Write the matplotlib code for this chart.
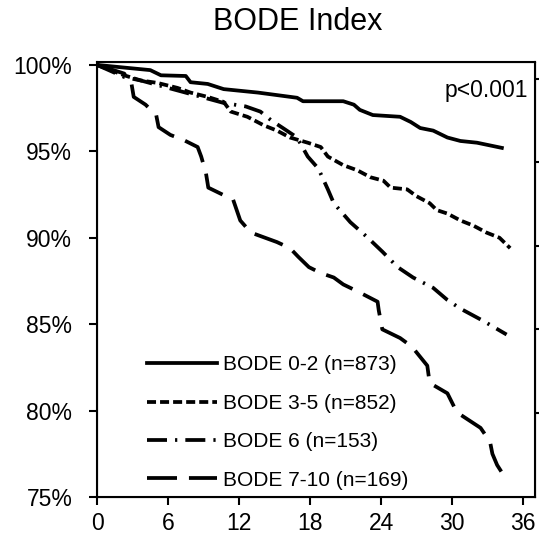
import matplotlib
matplotlib.use("Agg")
import matplotlib.pyplot as plt
from matplotlib.ticker import FuncFormatter

plt.rcParams['font.family'] = ['Liberation Sans', 'DejaVu Sans']
plt.rcParams['lines.scale_dashes'] = False

# Kaplan-Meier style survival curves (months, % event free)
bode_02_months = [0, 4.5, 5.4, 7.5, 7.9, 9.35, 10.7, 13.6, 16.9, 17.4, 20.8, 21.7, 22.2,
                  23.3, 25.6, 26.5, 27.3, 28.4, 29.6, 30.7, 32.1, 34.2]
bode_02_pct = [100, 99.7, 99.4, 99.36, 99.0, 98.9, 98.6, 98.4, 98.1, 97.9, 97.9, 97.7, 97.4,
               97.1, 97.0, 96.7, 96.35, 96.2, 95.8, 95.6, 95.5, 95.2]

bode_35_months = [0, 2.3, 3.7, 5.1, 6.8, 7.9, 9.35, 10.7, 11.3, 12.7, 14.1, 15.2, 16.3, 17.8,
                  18.9, 19.5, 20.8, 22.0, 23.1, 24.2, 24.8, 26.2, 27.0, 28.1, 28.7, 29.6,
                  30.7, 31.8, 32.9, 34.0, 34.9]
bode_35_pct = [100, 99.4, 99.1, 98.96, 98.67, 98.4, 98.15, 97.86, 97.3, 97.0, 96.5, 96.2,
               95.8, 95.5, 95.25, 94.7, 94.2, 93.9, 93.5, 93.3, 92.9, 92.8, 92.4, 92.0, 91.6,
               91.4, 91.0, 90.7, 90.3, 90.0, 89.4]

bode_6_months = [0, 2.3, 3.7, 10.7, 12.55, 13.8, 14.7, 15.7, 16.9, 17.8, 18.7, 19.5, 20.0,
                 21.4, 22.8, 24.1, 25.4, 26.7, 28.4, 29.6, 30.7, 32.6, 34.6]
bode_6_pct = [100, 99.3, 99.1, 97.8, 97.6, 97.3, 96.8, 96.35, 95.8, 94.7, 94.0, 92.8, 92.0,
              90.9, 90.05, 89.2, 88.3, 87.7, 87.1, 86.4, 85.9, 85.2, 84.4]

bode_710_months = [0, 2.3, 2.9, 3.1, 4.1, 5.0, 5.2, 6.2, 7.3, 8.5, 8.8, 9.2, 9.4, 10.3, 11.5,
                   12.1, 13.0, 15.2, 16.3, 17.0, 17.9, 18.9, 20.0, 20.8, 22.0, 23.7, 23.8,
                   24.1, 25.6, 26.6, 27.9, 28.1, 29.6, 30.4, 32.4, 33.2, 33.4, 33.8, 34.5]
bode_710_pct = [100, 99.5, 98.96, 98.15, 97.7, 97.1, 96.4, 95.95, 95.66, 95.25, 94.7, 93.75,
                92.9, 92.6, 92.2, 91.0, 90.3, 89.75, 89.4, 88.9, 88.3, 87.96, 87.7, 87.3,
                86.9, 86.3, 85.8, 84.7, 84.2, 83.7, 82.6, 81.6, 81.0, 79.9, 79.0, 78.2, 77.5,
                76.85, 76.1]

labels = ["BODE 0-2 (n=873)", "BODE 3-5 (n=852)", "BODE 6 (n=153)", "BODE 7-10 (n=169)"]
x_ticks = [0, 6, 12, 18, 24, 30, 36]
y_ticks = [75, 80, 85, 90, 95, 100]
right_ticks = [99.2, 94.37, 89.53, 84.7, 79.86]

fig = plt.figure(figsize=(5.39, 5.40), dpi=100)
ax = fig.add_axes([0.18, 0.0796, 0.8126, 0.8056])

lw = 2.7
ax.plot(bode_02_months, bode_02_pct, color='black', lw=lw, label=labels[0])
ax.plot(bode_35_months, bode_35_pct, color='black', lw=lw, dashes=(6.5, 2.9), label=labels[1])
ax.plot(bode_6_months, bode_6_pct, color='black', lw=lw, dashes=(14.4, 5.8, 1.6, 5.8),
        label=labels[2])
ax.plot(bode_710_months, bode_710_pct, color='black', lw=lw, dashes=(21.6, 8.6),
        label=labels[3])

ax.set_xlim(0, 37)
ax.set_ylim(75, 100.17)
ax.set_xticks(x_ticks)
ax.set_yticks(y_ticks)
ax.yaxis.set_major_formatter(FuncFormatter(lambda v, p: f"{v:.0f}%"))
ax.tick_params(axis='both', labelsize=16.5, width=1.5, length=5.8, direction='out')
ax.tick_params(axis='y', pad=12)
ax.tick_params(axis='x', pad=5)
for s in ax.spines.values():
    s.set_linewidth(1.5)

# second y-axis ticks on the right spine (unlabelled)
ax2 = ax.twinx()
ax2.set_ylim(75, 100.17)
ax2.set_yticks(right_ticks)
ax2.set_yticklabels([])
ax2.tick_params(axis='y', width=1.5, length=4, direction='out')

ax.text(0.984, 0.9195, "p<0.001", transform=ax.transAxes, ha='right', va='baseline',
        fontsize=16.5)

ax.legend(loc='lower left', bbox_to_anchor=(0.114, 0.017), frameon=False, fontsize=15,
          handlelength=3.37, handletextpad=0.3, labelspacing=0.93, borderpad=0,
          borderaxespad=0)

fig.text(0.552, 1 - 30 / 540, "BODE Index", ha='center', va='baseline', fontsize=22)

fig.savefig("out.png", dpi=100)
